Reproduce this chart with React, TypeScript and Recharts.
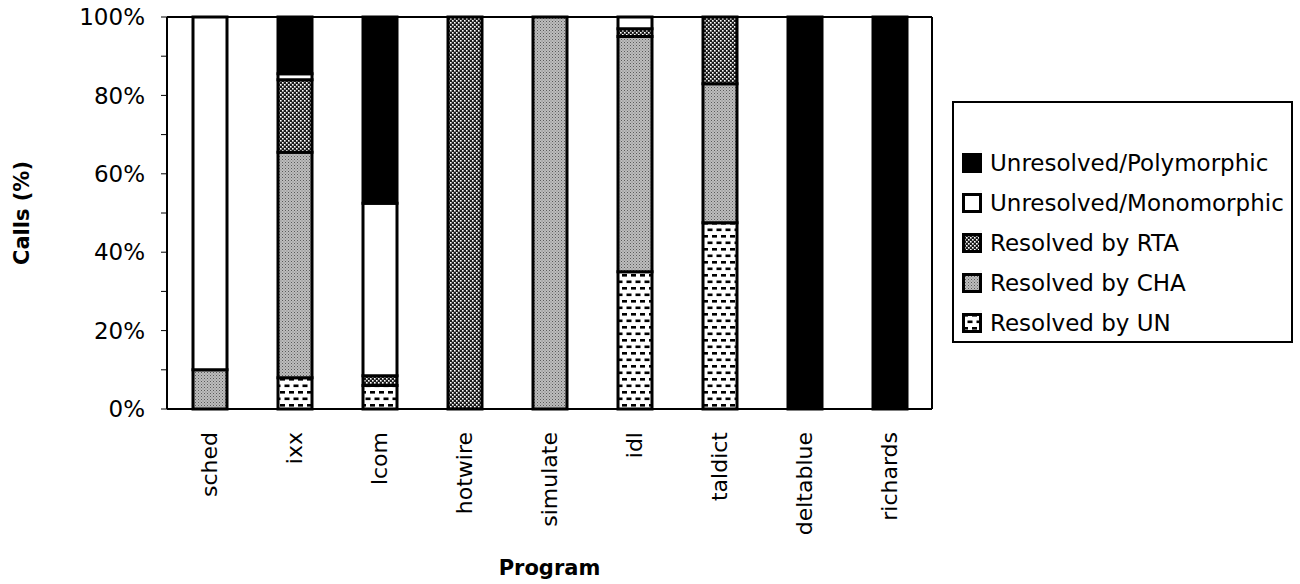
import { Bar, BarChart, Legend, XAxis, YAxis } from "recharts";

// programs on the x axis
const programs = ["sched", "ixx", "lcom", "hotwire", "simulate", "idl", "taldict", "deltablue", "richards"];

// share of calls (%) per program, bottom segment first
const resolvedUN = [0, 8, 6, 0, 0, 35, 47.5, 0, 0];
const resolvedCHA = [10, 57.5, 0, 0, 100, 60, 35.5, 0, 0];
const resolvedRTA = [0, 18.5, 2.5, 100, 0, 2, 17, 0, 0];
const unresolvedMono = [90, 1.5, 44, 0, 0, 3, 0, 0, 0];
const unresolvedPoly = [0, 14.5, 47.5, 0, 0, 0, 0, 100, 100];

const yTicks = [0, 10, 20, 30, 40, 50, 60, 70, 80, 90, 100];

const FONT = "'DejaVu Sans', sans-serif";

const series = [
  { key: "poly", name: "Unresolved/Polymorphic", fill: "#000" },
  { key: "mono", name: "Unresolved/Monomorphic", fill: "#fff" },
  { key: "rta", name: "Resolved by RTA", fill: "url(#patRTA)" },
  { key: "cha", name: "Resolved by CHA", fill: "url(#patCHA)" },
  { key: "un", name: "Resolved by UN", fill: "url(#patUN)" }
];

const data = programs.map((name, i) => ({
  name,
  un: resolvedUN[i],
  cha: resolvedCHA[i],
  rta: resolvedRTA[i],
  mono: unresolvedMono[i],
  poly: unresolvedPoly[i]
}));

function ProgramTick(props: any) {
  const { x, y, payload } = props;
  const ty = y + 23;
  return (
    <text
      x={x}
      y={ty}
      transform={`rotate(-90, ${x}, ${ty})`}
      textAnchor="end"
      dominantBaseline="central"
      fontFamily={FONT}
      fontSize={22}
      fill="#000"
    >
      {payload.value}
    </text>
  );
}

function LegendBox() {
  return (
    <div
      style={{
        boxSizing: "border-box",
        width: 341,
        height: 242,
        border: "2px solid #000",
        background: "#fff",
        paddingTop: 40,
        paddingLeft: 8,
        fontFamily: FONT,
        fontSize: 23,
        color: "#000"
      }}
    >
      {series.map((s) => (
        <div key={s.key} style={{ display: "flex", alignItems: "center", height: 40 }}>
          <svg width={20} height={20} style={{ marginRight: 8, flex: "none" }}>
            <rect x={1.5} y={1.5} width={17} height={17} fill={s.fill} stroke="#000" strokeWidth={3} />
          </svg>
          <span style={{ whiteSpace: "nowrap" }}>{s.name}</span>
        </div>
      ))}
    </div>
  );
}

export default function App() {
  const bars = [...series].reverse();
  return (
    <div style={{ position: "absolute", left: 0, top: 0, width: 1300, height: 584, background: "#fff" }}>
      <BarChart
        width={1300}
        height={584}
        data={data}
        barSize={34}
        margin={{ top: 16, right: 367, bottom: 0, left: 17 }}
      >
        <defs>
          <pattern id="patRTA" width={4} height={4} patternUnits="userSpaceOnUse">
            <rect width={4} height={4} fill="#1a1a1a" />
            <rect x={0} y={0} width={1.6} height={1.6} fill="#fff" />
            <rect x={2} y={2} width={1.6} height={1.6} fill="#fff" />
          </pattern>
          <pattern id="patCHA" width={3} height={3} patternUnits="userSpaceOnUse">
            <rect width={3} height={3} fill="#bdbdbd" />
            <rect x={0} y={0} width={1} height={1} fill="#5a5a5a" />
            <rect x={1.5} y={1.5} width={1} height={1} fill="#7a7a7a" />
          </pattern>
          <pattern id="patUN" width={9} height={13} patternUnits="userSpaceOnUse">
            <rect width={9} height={13} fill="#fff" />
            <rect x={1} y={1} width={5} height={2.6} fill="#000" />
            <rect x={5.5} y={7.5} width={5} height={2.6} fill="#000" />
            <rect x={-3.5} y={7.5} width={5} height={2.6} fill="#000" />
          </pattern>
        </defs>
        <XAxis
          dataKey="name"
          interval={0}
          height={175}
          tickLine={false}
          tickSize={0}
          tickMargin={0}
          axisLine={{ stroke: "#000", strokeWidth: 2 }}
          tick={<ProgramTick />}
          label={(p: any) => {
            const vb = p.viewBox;
            return (
              <text
                x={vb.x + vb.width / 2}
                y={vb.y + 166}
                textAnchor="middle"
                fontFamily={FONT}
                fontWeight="bold"
                fontSize={21}
                fill="#000"
              >
                Program
              </text>
            );
          }}
        />
        <XAxis
          xAxisId="top"
          orientation="top"
          dataKey="name"
          height={1}
          tick={false}
          tickLine={false}
          axisLine={{ stroke: "#000", strokeWidth: 2 }}
        />
        <YAxis
          width={150}
          domain={[0, 100]}
          ticks={yTicks}
          interval={0}
          tickSize={6}
          tickMargin={16}
          tickLine={{ stroke: "#000" }}
          axisLine={{ stroke: "#000", strokeWidth: 2 }}
          tickFormatter={(v: number) => (v % 20 === 0 ? `${v}%` : "")}
          tick={{ fill: "#000", fontFamily: FONT, fontSize: 23 }}
          label={(p: any) => {
            const vb = p.viewBox;
            const cx = vb.x + 5;
            const cy = vb.y + vb.height / 2;
            return (
              <text
                x={cx}
                y={cy}
                transform={`rotate(-90, ${cx}, ${cy})`}
                textAnchor="middle"
                dominantBaseline="central"
                fontFamily={FONT}
                fontWeight="bold"
                fontSize={21}
                fill="#000"
              >
                Calls (%)
              </text>
            );
          }}
        />
        <YAxis
          yAxisId="right"
          orientation="right"
          width={1}
          domain={[0, 100]}
          tick={false}
          tickLine={false}
          axisLine={{ stroke: "#000", strokeWidth: 2 }}
        />
        {bars.map((s) => (
          <Bar
            key={s.key}
            dataKey={s.key}
            name={s.name}
            stackId="calls"
            fill={s.fill}
            stroke="#000"
            strokeWidth={3}
            isAnimationActive={false}
          />
        ))}
        <Legend
          layout="vertical"
          align="center"
          verticalAlign="middle"
          wrapperStyle={{ left: 952, top: 101, width: 341, height: 242 }}
          content={() => <LegendBox />}
        />
      </BarChart>
    </div>
  );
}
